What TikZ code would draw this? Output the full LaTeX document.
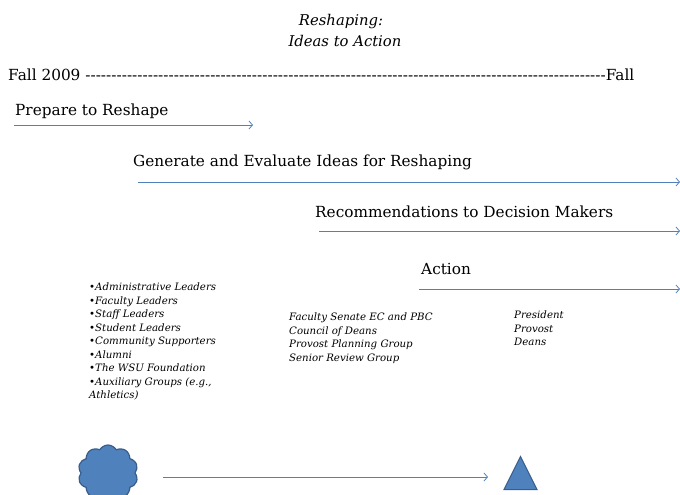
\documentclass[tikz,border=0pt]{standalone}
\usepackage{fontspec}
\setmainfont{DejaVu Serif}
\usetikzlibrary{shapes.symbols,shapes.geometric,arrows.meta}
\definecolor{ablue}{HTML}{4F81BD}
\definecolor{dblue}{HTML}{385D8A}
\begin{document}
\begin{tikzpicture}[x=1pt,y=-1pt,
  lab/.style={anchor=base west,inner sep=0,font=\fontsize{15.3}{18}\selectfont},
  ttl/.style={anchor=base,inner sep=0,font=\fontsize{14.8}{17}\selectfont\itshape},
  lst/.style={anchor=north west,inner sep=0,align=left,font=\fontsize{10.2}{13.5}\selectfont\itshape},
  arr/.style={draw=ablue,line width=0.8pt,-{Straight Barb[length=3.5pt,width=8pt]}}]
\useasboundingbox (0,0) rectangle (680,495);
\clip (0,0) rectangle (680,495);
\node[ttl] (t1) at (341,26) {Reshaping:};
\node[ttl] (t2) at (345,47) {Ideas to Action};
\node[lab] (fall) at (8,81) {\hbox to 626pt{Fall 2009 \xleaders\hbox{-}\hfill Fall}};
\node[lab] (p1) at (15,115) {Prepare to Reshape};
\node[lab] (p2) at (133,166) {Generate and Evaluate Ideas for Reshaping};
\node[lab] (p3) at (315,217) {Recommendations to Decision Makers};
\node[lab] (p4) at (421,274) {Action};
\coordinate (s1) at (14,125); \coordinate (e1) at (253,125);
\coordinate (s2) at (138,182); \coordinate (e2) at (680,182);
\coordinate (s3) at (319,231); \coordinate (e3) at (680,231);
\coordinate (s4) at (419,289); \coordinate (e4) at (680,289);
\draw[arr] (s1) -- (e1);
\draw[arr] (s2) -- (e2);
\draw[arr] (s3) -- (e3);
\draw[arr] (s4) -- (e4);
\node[lst] (l1) at (89,283) {\textbullet Administrative Leaders\\ \textbullet Faculty Leaders\\ \textbullet Staff Leaders\\ \textbullet Student Leaders\\ \textbullet Community Supporters\\ \textbullet Alumni\\ \textbullet The WSU Foundation\\ \textbullet Auxiliary Groups (e.g.,\\ Athletics)};
\node[lst] (l2) at (289,313) {Faculty Senate EC and PBC\\ Council of Deans\\ Provost Planning Group\\ Senior Review Group};
\node[lst] (l3) at (514,311) {President\\ Provost\\ Deans};
\node[cloud,cloud puffs=10,cloud puff arc=120,aspect=1.05,fill=ablue,draw=dblue,line width=1.2pt,minimum width=60pt,minimum height=56pt,inner sep=0] (c) at (108,473) {};
\node[isosceles triangle,shape border rotate=90,isosceles triangle stretches,minimum width=33pt,minimum height=33pt,inner sep=0,fill=ablue,draw=dblue,line width=1pt,anchor=lower side] (t) at (520.5,490) {};
\coordinate (cs) at (163,477); \coordinate (te) at (488,477);
\draw[arr] (cs) -- (te);
\end{tikzpicture}
\end{document}
